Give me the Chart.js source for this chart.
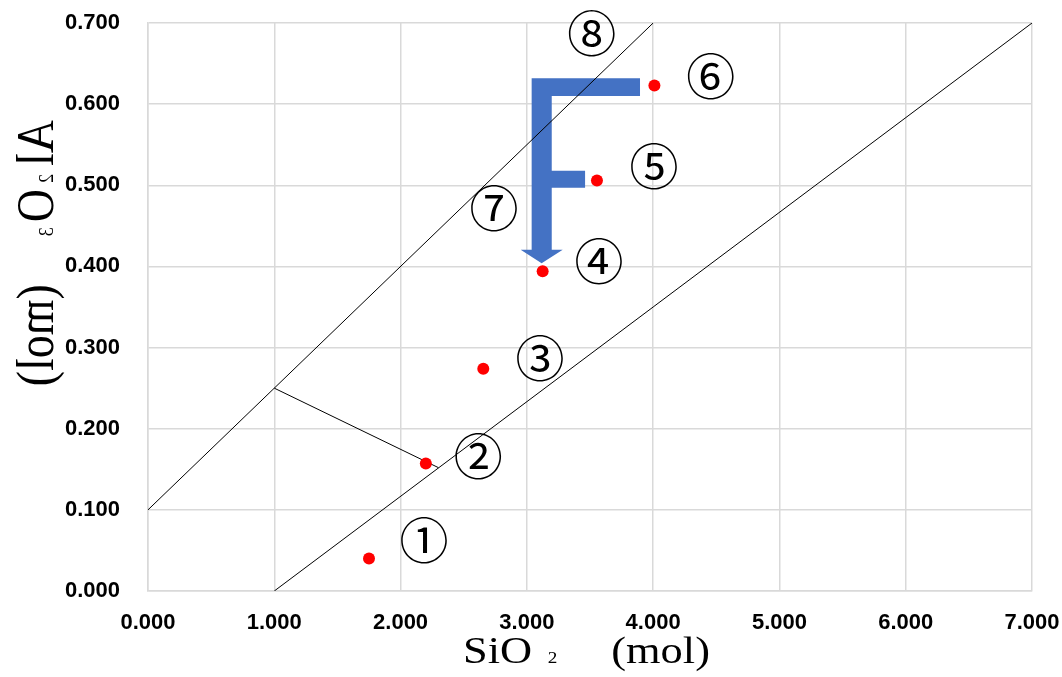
<!DOCTYPE html>
<html lang="ja">
<head>
    <meta charset="UTF-8">
    <title>SiO2 - Al2O3</title>
    <script src="https://cdn.jsdelivr.net/npm/chart.js@4.4.1/dist/chart.umd.min.js"></script>
    <style>
        html, body { margin: 0; padding: 0; background: #fff; }
        #wrap { width: 1062px; height: 677px; }
    </style>
</head>
<body>
    <div id="wrap">
        <canvas id="chart" width="1062" height="677"></canvas>
    </div>

    <script>
    // measured points (mol)
    var sio2  = [1.75, 2.20, 2.655, 3.125, 3.555, 4.01];
    var al2o3 = [0.040, 0.157, 0.274, 0.394, 0.506, 0.623];

    // guide lines
    var upperLineX = [0, 4];
    var upperLineY = [0.1, 0.7];
    var lowerLineX = [1, 7];
    var lowerLineY = [0, 0.7];
    var tieLineX = [1, 2.30];
    var tieLineY = [0.25, 0.152];

    // the blue "F" arrow outline, in axis units
    var arrowX = [3.038, 3.896, 3.896, 3.197, 3.197, 3.461, 3.461, 3.197, 3.197, 3.284, 3.117, 2.951, 3.038];
    var arrowY = [0.632, 0.632, 0.610, 0.610, 0.518, 0.518, 0.497, 0.497, 0.4205, 0.4205, 0.404, 0.4205, 0.4205];

    // circled number labels
    var labelText = ['①', '②', '③', '④', '⑤', '⑥', '⑦', '⑧'];
    var labelX = [2.185, 2.615, 3.104, 3.571, 4.007, 4.456, 2.74, 3.513];
    var labelY = [0.062, 0.1665, 0.287, 0.406, 0.523, 0.634, 0.472, 0.6877];

    // axis ticks
    var xTicks = [0, 1, 2, 3, 4, 5, 6, 7];
    var yTicks = [0, 0.1, 0.2, 0.3, 0.4, 0.5, 0.6, 0.7];

    function pts(xs, ys) {
        var out = [];
        for (var i = 0; i < xs.length; i++) out.push({x: xs[i], y: ys[i]});
        return out;
    }

    // draw a row of text pieces one after another along the local x direction
    function drawPieces(ctx, pieces) {
        var cur = 0;
        pieces.forEach(function (p) {
            cur += p.gap || 0;
            ctx.font = p.size + 'px "Liberation Serif", "DejaVu Serif", serif';
            ctx.fillText(p.t, cur, 0);
            cur += ctx.measureText(p.t).width;
        });
    }

    var extras = {
        id: 'extras',
        beforeDatasetsDraw: function (chart) {
            // blue arrow sits under the lines and points
            var ctx = chart.ctx, x = chart.scales.x, y = chart.scales.y;
            ctx.save();
            ctx.beginPath();
            for (var i = 0; i < arrowX.length; i++) {
                var px = x.getPixelForValue(arrowX[i]), py = y.getPixelForValue(arrowY[i]);
                if (i === 0) ctx.moveTo(px, py); else ctx.lineTo(px, py);
            }
            ctx.closePath();
            ctx.fillStyle = '#4472c4';
            ctx.fill();
            ctx.restore();
        },
        afterDatasetsDraw: function (chart) {
            var ctx = chart.ctx, x = chart.scales.x, y = chart.scales.y;
            ctx.save();
            ctx.font = '49px "Noto Sans CJK JP", "DejaVu Sans", sans-serif';
            ctx.fillStyle = '#000';
            ctx.textAlign = 'center';
            ctx.textBaseline = 'middle';
            for (var i = 0; i < labelText.length; i++) {
                ctx.fillText(labelText[i], x.getPixelForValue(labelX[i]), y.getPixelForValue(labelY[i]));
            }
            ctx.restore();
        },
        afterDraw: function (chart) {
            var ctx = chart.ctx;
            ctx.save();
            ctx.fillStyle = '#000';
            ctx.textAlign = 'left';
            ctx.textBaseline = 'alphabetic';

            // x title
            ctx.save();
            ctx.translate(463, 663);
            ctx.scale(1.2, 1);
            drawPieces(ctx, [
                {t: 'SiO', size: 37},
                {t: '2', size: 16, gap: 13},
                {t: '(mol)', size: 37, gap: 45}
            ]);
            ctx.restore();

            // y title, runs top to bottom
            ctx.save();
            ctx.translate(53, 120);
            ctx.rotate(Math.PI / 2);
            ctx.scale(1, -1.15);
            drawPieces(ctx, [
                {t: 'Al', size: 46},
                {t: '2', size: 18, gap: 8},
                {t: 'O', size: 46, gap: 6},
                {t: '3', size: 18, gap: 5},
                {t: '(mol)', size: 46, gap: 48}
            ]);
            ctx.restore();

            ctx.restore();
        }
    };

    var tickFont = {family: '"Liberation Sans", Arial, sans-serif', size: 22, weight: 'bold'};
    var gridColor = '#d9d9d9';

    var ctx = document.getElementById('chart').getContext('2d');
    var chart = new Chart(ctx, {
        type: 'scatter',
        data: {
            datasets: [
                {
                    label: 'samples',
                    data: pts(sio2, al2o3),
                    pointRadius: 6,
                    pointBackgroundColor: '#ff0000',
                    pointBorderWidth: 0,
                    order: 0
                },
                {
                    label: 'upper',
                    data: pts(upperLineX, upperLineY),
                    showLine: true,
                    borderColor: '#000',
                    borderWidth: 1,
                    pointRadius: 0,
                    order: 1
                },
                {
                    label: 'lower',
                    data: pts(lowerLineX, lowerLineY),
                    showLine: true,
                    borderColor: '#000',
                    borderWidth: 1,
                    pointRadius: 0,
                    order: 1
                },
                {
                    label: 'tie',
                    data: pts(tieLineX, tieLineY),
                    showLine: true,
                    borderColor: '#000',
                    borderWidth: 1,
                    pointRadius: 0,
                    order: 1
                }
            ]
        },
        options: {
            responsive: false,
            animation: false,
            layout: {padding: {top: 23, right: 30, left: 0, bottom: 0}},
            plugins: {
                legend: {display: false},
                tooltip: {enabled: false}
            },
            scales: {
                x: {
                    type: 'linear',
                    min: 0,
                    max: 7,
                    afterBuildTicks: function (s) { s.ticks = xTicks.map(function (v) { return {value: v}; }); },
                    afterFit: function (s) {
                        s.height = 86;
                        s.paddingLeft = 0;
                        s.paddingRight = 0;
                    },
                    grid: {color: gridColor, lineWidth: 1.5, drawTicks: false},
                    border: {color: gridColor, width: 1.5},
                    ticks: {
                        padding: 19,
                        color: '#000',
                        font: tickFont,
                        maxRotation: 0,
                        callback: function (v) { return v.toFixed(3); }
                    }
                },
                y: {
                    type: 'linear',
                    min: 0,
                    max: 0.7,
                    afterBuildTicks: function (s) { s.ticks = yTicks.map(function (v) { return {value: v}; }); },
                    afterFit: function (s) {
                        s.width = 148;
                        s.paddingTop = 0;
                        s.paddingBottom = 0;
                    },
                    grid: {color: gridColor, lineWidth: 1.5, drawTicks: false},
                    border: {color: gridColor, width: 1.5},
                    ticks: {
                        padding: 28,
                        color: '#000',
                        font: tickFont,
                        callback: function (v) { return v.toFixed(3); }
                    }
                }
            }
        },
        plugins: [extras]
    });
    </script>
</body>
</html>
